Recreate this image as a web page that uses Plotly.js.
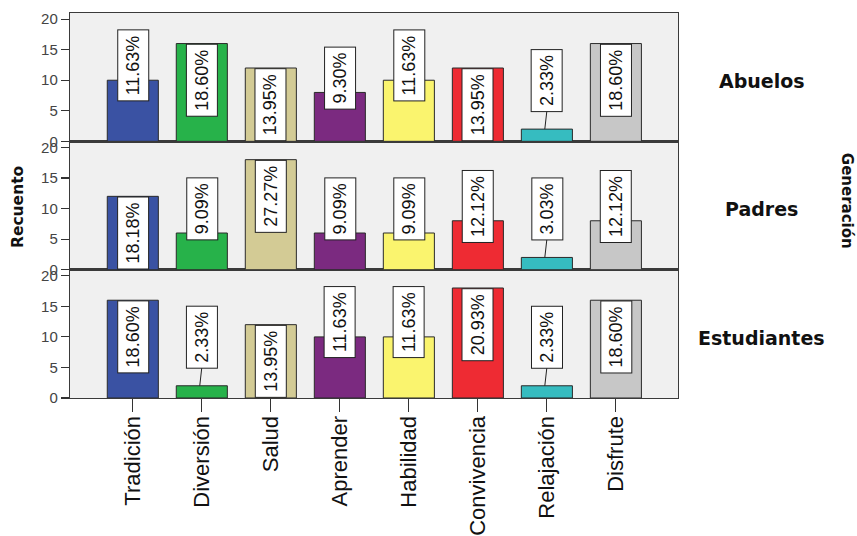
<!DOCTYPE html>
<html><head><meta charset="utf-8">
<script src="https://cdn.plot.ly/plotly-3.0.1.min.js"></script>
<style>html,body{margin:0;padding:0;background:#fff}</style>
</head><body><div id="chart" style="width:857px;height:536px"></div>
<script>
const categories = ['Tradición','Diversión','Salud','Aprender','Habilidad','Convivencia','Relajación','Disfrute'];
const groups = ['Abuelos','Padres','Estudiantes'];
const abuelos = [10,16,12,8,10,12,2,16];
const padres = [12,6,18,6,6,8,2,8];
const estudiantes = [16,2,12,10,10,18,2,16];
const yTicks = [0,5,10,15,20];
const barColors = ['#3a52a3','#27b24a','#d3cb95','#7b2a80','#faf46e','#ee2b33','#36bcc0','#c7c7c7'];

const series = [abuelos, padres, estudiantes];
// panel axes: top = y3, middle = y2, bottom = y
const axisIds = ['3','2',''];
const domains = [[2/3,1],[1/3,2/3],[0,1/3]];
const FONT = 'Liberation Sans, Arial, sans-serif';
const BOLD = 'DejaVu Sans, Verdana, sans-serif';

const traces = [];
const annotations = [];
const shapes = [];
const layout = {
  width: 857, height: 536,
  margin: {l: 70, r: 179, t: 13, b: 138},
  paper_bgcolor: '#ffffff',
  plot_bgcolor: '#f0f0f0',
  showlegend: false,
  font: {family: FONT, color: '#222'}
};

series.forEach((vals, p) => {
  const id = axisIds[p];
  const total = vals.reduce((a,b)=>a+b,0);
  traces.push({
    type: 'bar', x: categories.map((c,i)=>i), y: vals,
    xaxis: 'x'+id, yaxis: 'y'+id,
    marker: {color: barColors, line: {color: '#2a2a2a', width: 1}},
    width: 0.74, hoverinfo: 'skip'
  });
  const isBottom = id === '';
  layout['xaxis'+id] = {
    range: [-0.91, 7.9], domain: [0,1], anchor: 'y'+id,
    tickmode: 'array', tickvals: categories.map((c,i)=>i), ticktext: categories,
    showticklabels: isBottom, ticks: isBottom ? 'outside' : '', ticklen: 13, tickcolor: '#333', tickwidth: 1.2,
    ticklabelstandoff: -5,
    tickangle: -90, tickfont: {family: FONT, size: 22, color: '#111'},
    showline: true, mirror: true, linecolor: '#3a3a3a', linewidth: 1.2,
    showgrid: false, zeroline: false, fixedrange: true
  };
  layout['yaxis'+id] = {
    range: [0, 21], domain: domains[p], anchor: 'x'+id,
    tickmode: 'array', tickvals: yTicks, ticktext: yTicks.map(String),
    ticks: 'outside', ticklen: 8, tickcolor: '#333', tickwidth: 1.2,
    tickfont: {family: FONT, size: 15, color: '#444'},
    showline: true, mirror: true, linecolor: '#3a3a3a', linewidth: 1.2,
    showgrid: false, zeroline: false, fixedrange: true
  };
  vals.forEach((v, i) => {
    const label = (v / total * 100).toFixed(2) + '%';
    const half = label.length >= 6 ? 5.95 : 5.0;
    const center = v >= 12 ? v - half : Math.max(v + 2.4, 10);
    annotations.push({
      x: i, y: center, xref: 'x'+id, yref: 'y'+id,
      text: label, showarrow: false, textangle: -90,
      xanchor: 'center', yanchor: 'middle',
      font: {family: FONT, size: 18, color: '#111'},
      bgcolor: '#ffffff', bordercolor: '#222', borderwidth: 1, borderpad: 5
    });
    if (center - half > v) {
      shapes.push({type: 'line', xref: 'x'+id, yref: 'y'+id,
        x0: i, x1: i - 0.03, y0: center - half, y1: v,
        line: {color: '#222', width: 1}});
    }
  });
  annotations.push({
    xref: 'paper', yref: 'y'+id+' domain', x: 1.138, y: 0.47,
    text: '<b>' + groups[p] + '</b>', showarrow: false,
    xanchor: 'center', yanchor: 'middle',
    font: {family: BOLD, size: 19, color: '#111'}
  });
});

annotations.push({
  xref: 'paper', yref: 'paper', x: -0.0855, y: 0.496,
  text: '<b>Recuento</b>', showarrow: false, textangle: -90,
  xanchor: 'center', yanchor: 'middle',
  font: {family: BOLD, size: 15.5, color: '#111'}
});
annotations.push({
  xref: 'paper', yref: 'paper', x: 1.278, y: 0.512,
  text: '<b>Generación</b>', showarrow: false, textangle: 90,
  xanchor: 'center', yanchor: 'middle',
  font: {family: BOLD, size: 15, color: '#111'}
});

layout.annotations = annotations;
layout.shapes = shapes;
Plotly.newPlot('chart', traces, layout, {displayModeBar: false, staticPlot: true});
</script></body></html>
